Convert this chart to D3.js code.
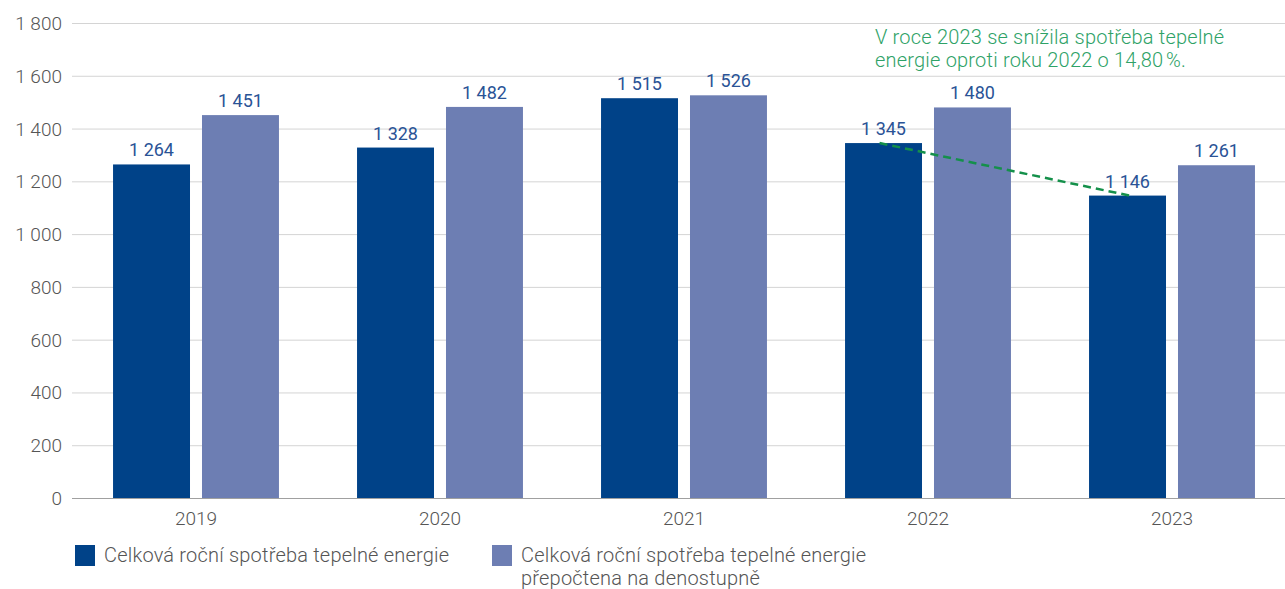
<!DOCTYPE html>
<html><head><meta charset="utf-8">
<script src="https://cdn.jsdelivr.net/npm/d3@7"></script>
<style>
body{margin:0;background:#fff;}
text{font-family:Roboto,"Liberation Sans",sans-serif;}
</style></head>
<body><svg id="c" width="1285" height="589"></svg>
<script>
const years = ["2019","2020","2021","2022","2023"];
const seriesNames = ["Celková roční spotřeba tepelné energie","Celková roční spotřeba tepelné energie přepočtena na denostupně"];
const consumption = [1264,1328,1515,1345,1146];
const adjusted = [1451,1482,1526,1480,1261];
const yTicks = [0,200,400,600,800,1000,1200,1400,1600,1800];
const annotationLines = ["V roce 2023 se snížila spotřeba tepelné","energie oproti roku 2022 o 14,80\u202f%."];
const trendYears = ["2022","2023"];

const colors = ["#004288","#6d7eb3"];
const svg = d3.select("#c");
const fmtN = v => { const s = String(v); return s.length>3 ? s.slice(0,s.length-3)+" "+s.slice(-3) : s; };

const y = d3.scaleLinear().domain([0,1800]).range([498,23]);
const x0 = d3.scaleBand().domain(years).range([74,1294]).paddingInner(0.32).paddingOuter(0.16);
const x1 = d3.scaleBand().domain([0,1]).range([0,x0.bandwidth()]).paddingInner(12/89);

// grid
const grid = svg.append("g");
grid.selectAll("line").data(yTicks).join("line")
  .attr("x1",72).attr("x2",1285)
  .attr("y1",d=>y(d)+0.5).attr("y2",d=>y(d)+0.5)
  .attr("stroke",d=>d===0?"#a0a0a0":"#d4d4d4").attr("stroke-width",1);
// y labels
svg.append("g").selectAll("text").data(yTicks).join("text")
  .attr("x",62).attr("y",d=>y(d)+7)
  .attr("text-anchor","end").attr("font-size",19).attr("font-weight",300).attr("fill","#555")
  .text(d=>fmtN(d));

const data = years.map((yr,i)=>({yr, vals:[consumption[i],adjusted[i]]}));
const g = svg.append("g");
data.forEach(d=>{
  d.vals.forEach((v,k)=>{
    const bx = x0(d.yr)+x1(k);
    g.append("rect").attr("x",bx).attr("y",y(v)).attr("width",x1.bandwidth())
      .attr("height",y(0)-y(v)).attr("fill",colors[k]);
    g.append("text").attr("x",bx+x1.bandwidth()/2).attr("y",y(v)-8)
      .attr("text-anchor","middle").attr("font-size",18).attr("fill","#2a5396")
      .text(fmtN(v));
  });
});
// x labels
svg.append("g").selectAll("text").data(years).join("text")
  .attr("x",d=>x0(d)+x0.bandwidth()/2).attr("y",525)
  .attr("text-anchor","middle").attr("font-size",19).attr("font-weight",300).attr("fill","#555")
  .text(d=>d);

// trend line
const tp = trendYears.map(yr=>{const i=years.indexOf(yr);return [x0(yr)+x1(0)+x1.bandwidth()/2-4, y(consumption[i])];});
svg.append("line").attr("x1",tp[0][0]).attr("y1",tp[0][1]).attr("x2",tp[1][0]+6).attr("y2",tp[1][1])
  .attr("stroke","#14904a").attr("stroke-width",2.5).attr("stroke-dasharray","8,5");

// annotation
const at = svg.append("text").attr("x",875).attr("y",44).attr("font-size",20).attr("letter-spacing",0.2).attr("font-weight",300).attr("fill","#2ea267");
annotationLines.forEach((l,i)=>at.append("tspan").attr("x",875).attr("dy",i?23:0).text(l));

// legend
const lg = svg.append("g");
const legX = [75,492];
seriesNames.forEach((n,k)=>{
  lg.append("rect").attr("x",legX[k]).attr("y",545).attr("width",20).attr("height",21).attr("fill",colors[k]);
  const t = lg.append("text").attr("x",legX[k]+29).attr("y",562).attr("font-size",20).attr("letter-spacing",0.2).attr("font-weight",300).attr("fill","#555");
  if(k===1){
    t.append("tspan").attr("x",legX[k]+29).text("Celková roční spotřeba tepelné energie");
    t.append("tspan").attr("x",legX[k]+29).attr("dy",23).text("přepočtena na denostupně");
  } else t.text(n);
});
</script></body></html>
